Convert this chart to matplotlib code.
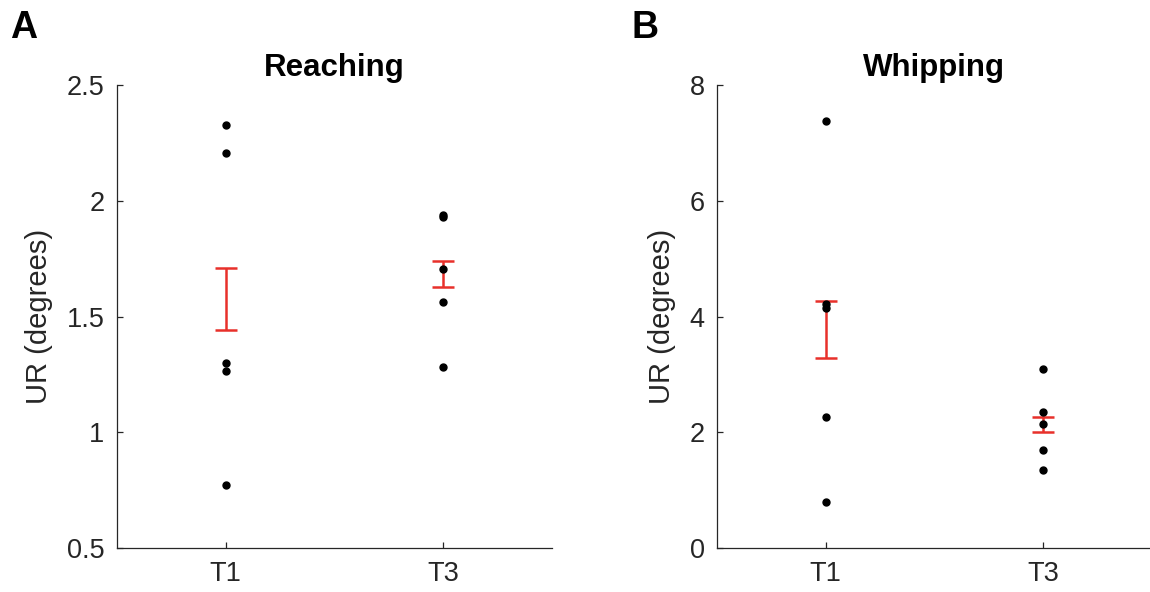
import numpy as np
import matplotlib
matplotlib.use("Agg")
import matplotlib.pyplot as plt

plt.rcParams["font.family"] = ["Liberation Sans", "DejaVu Sans"]

groups = ["T1", "T3"]

# Reaching: individual points, error bar limits
reach_t1 = [2.327, 2.208, 1.298, 1.266, 0.772]
reach_t3 = [1.940, 1.932, 1.705, 1.561, 1.283]
reach_lo = [1.442, 1.629]
reach_hi = [1.708, 1.740]

# Whipping
whip_t1 = [7.372, 4.216, 4.153, 2.264, 0.802]
whip_t3 = [3.087, 2.350, 2.143, 1.693, 1.348]
whip_lo = [3.277, 1.999]
whip_hi = [4.268, 2.258]

axis_col = "#262626"
red = "#e8302a"


def draw_panel(ax, pts, lo, hi, title, ylim, yticks, yticklabels):
    lo = np.array(lo)
    hi = np.array(hi)
    x = np.arange(1, len(groups) + 1)
    ax.errorbar(x, (lo + hi) / 2, yerr=(hi - lo) / 2, fmt="none",
                ecolor=red, elinewidth=1.8, capsize=8, capthick=1.8, zorder=2)
    for i, p in enumerate(pts):
        ax.plot(np.full(len(p), x[i]), p, "o", color="black",
                markersize=5, zorder=3, clip_on=False)
    ax.set_xlim(0.5, 2.5)
    ax.set_ylim(*ylim)
    ax.set_xticks(x)
    ax.set_xticklabels(groups)
    ax.set_yticks(yticks)
    ax.set_yticklabels(yticklabels)
    ax.spines["top"].set_visible(False)
    ax.spines["right"].set_visible(False)
    for s in ["left", "bottom"]:
        ax.spines[s].set_color(axis_col)
        ax.spines[s].set_linewidth(0.9)
    ax.tick_params(direction="in", length=4, width=0.9, color=axis_col,
                   labelcolor=axis_col, labelsize=19.5, pad=9)
    ax.set_ylabel("UR (degrees)", fontsize=21, color=axis_col, labelpad=10)
    ax.set_title(title, fontsize=22.5, fontweight="bold", pad=6.5)


fig = plt.figure(figsize=(11.5, 5.92), dpi=100)
ax1 = fig.add_axes([0.1017, 0.0743, 0.378, 0.782])
ax2 = fig.add_axes([0.6235, 0.0743, 0.378, 0.782])

draw_panel(ax1, [reach_t1, reach_t3], reach_lo, reach_hi, "Reaching",
           (0.5, 2.5), [0.5, 1, 1.5, 2, 2.5], ["0.5", "1", "1.5", "2", "2.5"])
draw_panel(ax2, [whip_t1, whip_t3], whip_lo, whip_hi, "Whipping",
           (0, 8), [0, 2, 4, 6, 8], ["0", "2", "4", "6", "8"])

fig.text(0.009, 0.935, "A", fontsize=27, fontweight="bold")
fig.text(0.549, 0.935, "B", fontsize=27, fontweight="bold")

fig.savefig("out.png", dpi=100)
